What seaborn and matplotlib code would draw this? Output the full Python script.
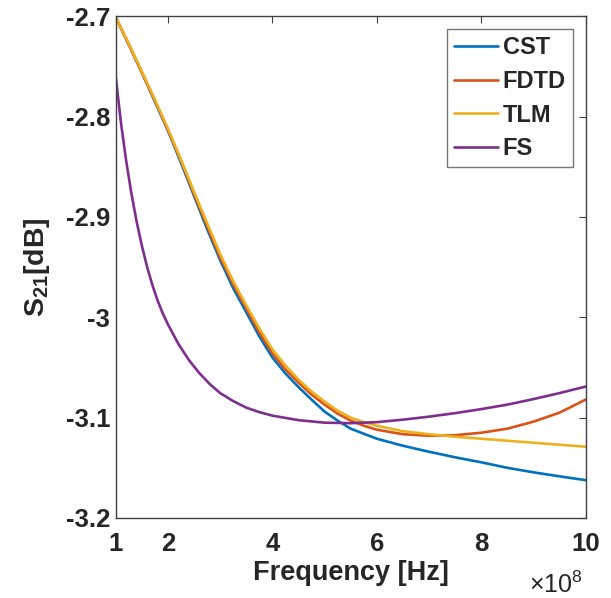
import matplotlib
matplotlib.use("Agg")
import matplotlib.pyplot as plt
import pandas as pd
import seaborn as sns

# frequency axis in units of 1e8 Hz
freq = [1.0, 1.25, 1.5, 1.75, 2.0, 2.25, 2.5, 2.75, 3.0, 3.25, 3.5, 3.75, 4.0, 4.25,
        4.5, 4.75, 5.0, 5.25, 5.5, 5.75, 6.0, 6.5, 7.0, 7.5, 8.0, 8.5, 9.0, 9.5, 10.0]
cst = [-2.701, -2.728, -2.756, -2.785, -2.814, -2.846, -2.879, -2.912, -2.943, -2.971,
       -2.995, -3.019, -3.040, -3.056, -3.0695, -3.082, -3.094, -3.103, -3.111, -3.116,
       -3.121, -3.128, -3.134, -3.1395, -3.1445, -3.150, -3.1545, -3.1585, -3.1623]
fdtd = [-2.701, -2.728, -2.756, -2.784, -2.813, -2.844, -2.877, -2.909, -2.940, -2.967,
        -2.991, -3.015, -3.036, -3.052, -3.065, -3.077, -3.087, -3.096, -3.103, -3.108,
        -3.112, -3.1165, -3.118, -3.1175, -3.115, -3.111, -3.104, -3.095, -3.082]
tlm = [-2.701, -2.727, -2.755, -2.783, -2.812, -2.843, -2.875, -2.906, -2.937, -2.964,
       -2.988, -3.011, -3.032, -3.048, -3.062, -3.074, -3.084, -3.093, -3.100, -3.1045,
       -3.108, -3.1135, -3.1165, -3.119, -3.121, -3.123, -3.125, -3.127, -3.129]

freq_fs = [1.0, 1.1, 1.2, 1.3, 1.4, 1.5, 1.6, 1.7, 1.8, 1.9, 2.0, 2.2, 2.4, 2.6, 2.8,
           3.0, 3.25, 3.5, 3.75, 4.0, 4.5, 5.0, 5.5, 6.0, 6.5, 7.0, 7.5, 8.0, 8.5,
           9.0, 9.5, 10.0]
fs = [-2.760, -2.806, -2.844, -2.8765, -2.9045, -2.9285, -2.9495, -2.9675, -2.983, -2.996,
      -3.007, -3.0265, -3.0425, -3.0555, -3.0665, -3.0755, -3.0835, -3.090, -3.0945, -3.098,
      -3.1025, -3.105, -3.1055, -3.1045, -3.102, -3.099, -3.0955, -3.0915, -3.087,
      -3.0815, -3.0755, -3.069]

methods = ["CST", "FDTD", "TLM", "FS"]
colors = ["#0072BD", "#D95319", "#EDB120", "#7E2F8E"]
x_ticks = [1, 2, 4, 6, 8, 10]
y_ticks = [-3.2, -3.1, -3.0, -2.9, -2.8, -2.7]
y_tick_labels = ["-3.2", "-3.1", "-3", "-2.9", "-2.8", "-2.7"]

df = pd.concat([
    pd.DataFrame({"freq": freq, "s21": cst, "method": "CST"}),
    pd.DataFrame({"freq": freq, "s21": fdtd, "method": "FDTD"}),
    pd.DataFrame({"freq": freq, "s21": tlm, "method": "TLM"}),
    pd.DataFrame({"freq": freq_fs, "s21": fs, "method": "FS"}),
], ignore_index=True)

sns.set_style("white")
plt.rcParams["font.family"] = ["Liberation Sans", "DejaVu Sans"]
plt.rcParams["font.weight"] = "bold"
plt.rcParams["mathtext.fontset"] = "custom"
plt.rcParams["mathtext.bf"] = "Liberation Sans:bold"
plt.rcParams["mathtext.rm"] = "Liberation Sans:normal"
plt.rcParams["axes.unicode_minus"] = False

fig = plt.figure(figsize=(6.11, 5.98), dpi=100)
ax = fig.add_axes([0.1894, 0.1338, 0.7692, 0.8389])

sns.lineplot(data=df, x="freq", y="s21", hue="method", hue_order=methods,
             palette=dict(zip(methods, colors)), estimator=None, linewidth=1.9, ax=ax)

ax.set_xlim(1, 10)
ax.set_ylim(-3.2, -2.7)
ax.set_xticks(x_ticks)
ax.set_xticklabels([str(t) for t in x_ticks])
ax.set_yticks(y_ticks)
ax.set_yticklabels(y_tick_labels)
ax.tick_params(axis="both", direction="in", length=5, width=0.8, color="#404040",
               top=True, right=True, labelsize=18.5)
ax.tick_params(axis="x", pad=10)
ax.tick_params(axis="y", pad=4)
for sp in ax.spines.values():
    sp.set_visible(True)
    sp.set_color("#404040")
    sp.set_linewidth(1.0)

ax.set_xlabel("Frequency [Hz]", fontsize=19.5, fontweight="bold", labelpad=3)
ax.set_ylabel(r"$\mathbf{S_{21}}$[dB]", fontsize=20.5, fontweight="bold", labelpad=10)

ax.legend(loc="upper right", frameon=True, fancybox=False, edgecolor="#555555",
          handlelength=1.85, handletextpad=0.2, labelspacing=0.45, borderpad=0.3,
          borderaxespad=0.55, prop={"weight": "bold", "size": 17})
ax.get_legend().get_frame().set_linewidth(1.0)

fig.text(583 / 611, 1 - 593 / 598, r"$\mathrm{\times10^{8}}$", ha="right", va="baseline",
         fontsize=18, fontweight="normal", color="#262626")

fig.savefig("out.png", dpi=100)
plt.close(fig)
